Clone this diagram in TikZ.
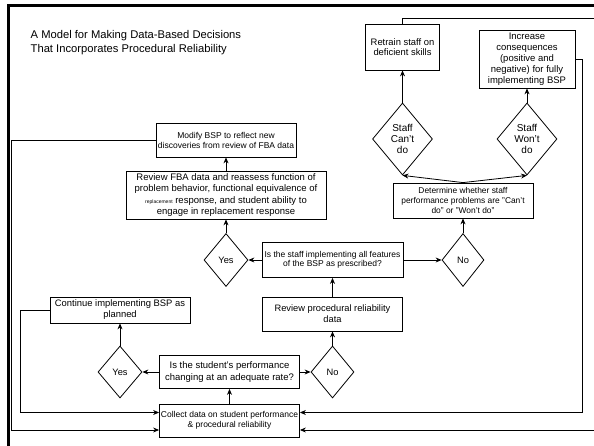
\documentclass[tikz,border=0pt]{standalone}
\usepackage{fontspec}
\setmainfont{Liberation Sans}
\usetikzlibrary{shapes.geometric,arrows.meta}

\begin{document}
\begin{tikzpicture}[x=1pt,y=-1pt,
        box/.style={draw,line width=0.8pt,align=center,inner sep=1pt},
        dec/.style={diamond,draw,line width=0.8pt,align=center,inner sep=0pt},
        arr/.style={-{Stealth[length=6pt,width=5pt]},line width=0.8pt}]
    \useasboundingbox (0,0) rectangle (594,446);
    \draw[line width=3pt] (8.5,446) -- (8.5,5.5) -- (594,5.5);
    \node[anchor=base west,inner sep=0pt,font=\fontsize{11.2}{14}\selectfont] (title1) at (30.5,39) {A Model for Making Data-Based Decisions};
    \node[anchor=base west,inner sep=0pt,font=\fontsize{11.2}{14}\selectfont] (title2) at (30.5,53) {That Incorporates Procedural Reliability};
    \node[box,minimum width=140pt,minimum height=34pt,font=\fontsize{8.5}{10}\selectfont] (modify) at (226,140) {Modify BSP to reflect new\\discoveries from review of FBA data};
    \node[box,minimum width=200pt,minimum height=48pt,font=\fontsize{9.5}{11.5}\selectfont] (fba) at (226,195) {Review FBA data and reassess function of\\problem behavior, functional equivalence of\\{\fontsize{5}{5}\selectfont replacement} response, and student ability to\\engage in replacement response};
    \node[dec,minimum width=44pt,minimum height=53pt,font=\fontsize{9.3}{11}\selectfont] (yesA) at (226,260) {Yes};
    \node[box,minimum width=141pt,minimum height=35pt,font=\fontsize{8.5}{9.5}\selectfont] (staff) at (332.5,260) {Is the staff implementing all features\\of the BSP as prescribed?};
    \node[dec,minimum width=42pt,minimum height=53pt,font=\fontsize{9.3}{11}\selectfont] (noA) at (463,260) {No};
    \node[box,minimum width=140pt,minimum height=35pt,font=\fontsize{8.4}{10}\selectfont] (determ) at (463,200.5) {Determine whether staff\\performance problems are "Can't\\do" or "Won't do"};
    \node[dec,minimum width=60pt,minimum height=72pt,font=\fontsize{10}{11}\selectfont] (cant) at (402.5,139) {Staff\\Can't\\do};
    \node[dec,minimum width=60pt,minimum height=72pt,font=\fontsize{10}{11}\selectfont] (wont) at (527,139) {Staff\\Won't\\do};
    \node[box,minimum width=74pt,minimum height=46pt,font=\fontsize{9.4}{10.7}\selectfont] (retrain) at (402.5,47) {Retrain staff on\\deficient skills};
    \node[box,minimum width=96pt,minimum height=58pt,font=\fontsize{9.5}{11}\selectfont] (increase) at (527,59) {Increase\\consequences\\(positive and\\negative) for fully\\implementing BSP};
    \node[box,minimum width=140pt,minimum height=34pt,font=\fontsize{9.3}{11}\selectfont] (review) at (332.5,314) {Review procedural reliability\\data};
    \node[dec,minimum width=43pt,minimum height=52pt,font=\fontsize{9.3}{11}\selectfont] (noB) at (332.5,372) {No};
    \node[box,minimum width=140pt,minimum height=33pt,font=\fontsize{9.5}{11.5}\selectfont] (perf) at (229.5,372) {Is the student's performance\\changing at an adequate rate?};
    \node[dec,minimum width=44pt,minimum height=52pt,font=\fontsize{9.3}{11}\selectfont] (yesB) at (120,372) {Yes};
    \node[box,minimum width=140pt,minimum height=26pt,font=\fontsize{9.4}{11}\selectfont] (cont) at (120,310) {Continue implementing BSP as\\planned};
    \node[box,minimum width=140pt,minimum height=33pt,font=\fontsize{8.5}{10}\selectfont] (collect) at (229.5,420.5) {Collect data on student performance\\\& procedural reliability};
    % decision flow
    \draw[arr] (collect) -- (perf);
    \draw[arr] (perf) -- (yesB);
    \draw[arr] (perf) -- (noB);
    \draw[arr] (yesB) -- (cont);
    \draw[arr] (noB) -- (review);
    \draw[arr] (review) -- (staff);
    \draw[arr] (staff) -- (yesA);
    \draw[arr] (staff) -- (noA);
    \draw[arr] (yesA) -- (fba);
    \draw[arr] (fba) -- (modify);
    \draw[arr] (noA) -- (determ);
    \draw[arr] (determ.north) -- (cant.south);
    \draw[arr] (determ.north) -- (wont.south);
    \draw[arr] (cant) -- (retrain);
    \draw[arr] (wont) -- (increase);
    % back to data collection
    \draw[arr] (cont.west) -- ++(-29,0) |- ([yshift=8pt]collect.west);
    \draw[arr] (modify.west) -- ++(-144.5,0) |- ([yshift=-9.5pt]collect.west);
    \draw[arr] (increase.east) -- ++(7,0) |- ([yshift=8pt]collect.east);
    \draw[arr] (retrain.north) |- (596,18) |- ([yshift=-9.5pt]collect.east);
\end{tikzpicture}
\end{document}
